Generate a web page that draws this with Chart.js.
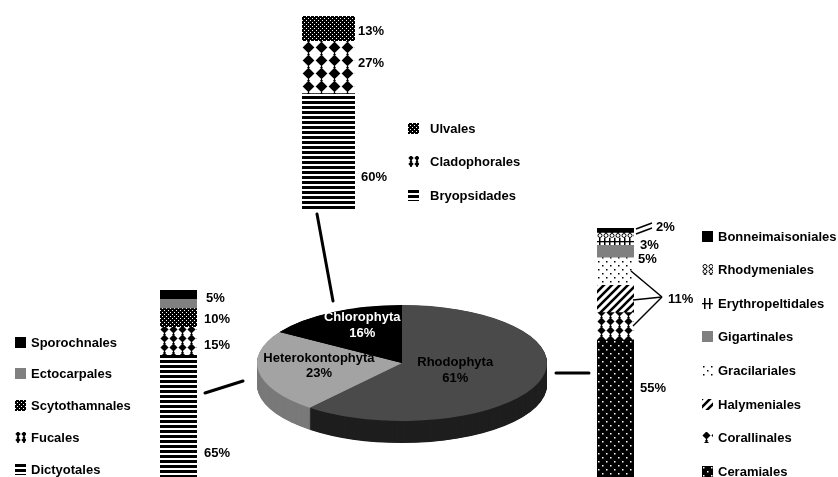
<!DOCTYPE html>
<html>
<head>
<meta charset="utf-8">
<script src="https://cdn.jsdelivr.net/npm/chart.js@4/dist/chart.umd.min.js"></script>
<style>
  html, body { margin: 0; padding: 0; background: #fff; }
  #page { position: relative; width: 838px; height: 477px; overflow: hidden; font: bold 13px "Liberation Sans", Arial, sans-serif; color: #000; }
  canvas { position: absolute; }
  .t { position: absolute; line-height: 15px; white-space: nowrap; }
  .leg { position: absolute; display: flex; align-items: center; white-space: nowrap; line-height: 15px; }
  .leg canvas { position: static; }
  svg { position: absolute; left: 0; top: 0; }
</style>
</head>
<body>
<div id="page">
  <canvas id="pie" width="306" height="306" style="left:249px;top:210px"></canvas>
  <canvas id="chloro" width="53" height="194" style="left:302px;top:16px"></canvas>
  <canvas id="hetero" width="37" height="187" style="left:160px;top:290px"></canvas>
  <canvas id="rhodo" width="37" height="249" style="left:597px;top:228px"></canvas>
  <svg width="838" height="477">
    <g stroke="#000" stroke-width="3" stroke-linecap="round">
      <line x1="317" y1="214" x2="333" y2="301"/>
      <line x1="205" y1="393" x2="243" y2="381"/>
      <line x1="556" y1="373" x2="589" y2="373"/>
    </g>
    <g stroke="#000" stroke-width="1.5">
      <line x1="636" y1="229" x2="652" y2="223"/>
      <line x1="636" y1="234" x2="652" y2="228"/>
      <line x1="662" y1="297" x2="631" y2="271"/>
      <line x1="662" y1="297" x2="633" y2="300"/>
      <line x1="662" y1="297" x2="633" y2="326"/>
    </g>
  </svg>
</div>
<script>
// main divisions
var groups = ['Rhodophyta', 'Heterokontophyta', 'Chlorophyta'];
var groupShares = [61, 23, 16];

// orders in each division, top of the bar first
var chloroOrders = ['Ulvales', 'Cladophorales', 'Bryopsidades'];
var chloroShares = [13, 27, 60];

var heteroOrders = ['Sporochnales', 'Ectocarpales', 'Scytothamnales', 'Fucales', 'Dictyotales'];
var heteroShares = [5, 5, 10, 15, 65];

var rhodoOrders = ['Bonneimaisoniales', 'Rhodymeniales', 'Erythropeltidales', 'Gigartinales',
                   'Gracilariales', 'Halymeniales', 'Corallinales', 'Ceramiales'];
var rhodoShares = [2, 2, 3, 5, 11, 11, 11, 55];

// percent labels shown beside the bars
var chloroLabels = ['13%', '27%', '60%'];
var heteroLabels = ['5%', '10%', '15%', '65%'];
var rhodoLabels = ['2%', '3%', '5%', '11%', '55%'];

// ---- patterns ----
function tile(w, h, draw) {
  var c = document.createElement('canvas');
  c.width = w; c.height = h;
  draw(c.getContext('2d'), w, h);
  return c;
}
var patCtx = document.createElement('canvas').getContext('2d');
function pat(c) { return patCtx.createPattern(c, 'repeat'); }

function hlines() {
  return tile(5, 5, function (g) { g.fillStyle = '#fff'; g.fillRect(0, 0, 5, 5); g.fillStyle = '#000'; g.fillRect(0, 0, 5, 3); });
}
function fineDots() {
  return tile(4, 4, function (g) { g.fillStyle = '#000'; g.fillRect(0, 0, 4, 4); g.fillStyle = '#fff'; g.fillRect(0, 0, 1, 1); g.fillRect(2, 2, 1, 1); });
}
function diamonds(s) {
  return tile(s, s, function (g) {
    g.fillStyle = '#fff'; g.fillRect(0, 0, s, s);
    g.fillStyle = '#000';
    var cx = s / 2, cy = s / 2 - 1, r = s * 0.45;
    g.beginPath(); g.moveTo(cx, cy - r); g.lineTo(cx + r, cy); g.lineTo(cx, cy + r); g.lineTo(cx - r, cy); g.closePath(); g.fill();
    g.fillRect(cx - 0.5, cy + r - 1, 1, s - (cy + r) + 1);
    g.beginPath(); g.moveTo(cx - 1.5, s); g.lineTo(cx + 1.5, s); g.lineTo(cx, s - 2.5); g.closePath(); g.fill();
  });
}
function sparseDots(bg, fg) {
  return tile(8, 8, function (g) { g.fillStyle = bg; g.fillRect(0, 0, 8, 8); g.fillStyle = fg; g.fillRect(1, 1, 1.5, 1.5); g.fillRect(5, 5, 1.5, 1.5); });
}
function diagonals() {
  return tile(8, 8, function (g) {
    g.fillStyle = '#fff'; g.fillRect(0, 0, 8, 8);
    g.strokeStyle = '#000'; g.lineWidth = 2.6;
    g.beginPath(); g.moveTo(-2, 2); g.lineTo(2, -2); g.moveTo(0, 8); g.lineTo(8, 0); g.moveTo(6, 10); g.lineTo(10, 6); g.stroke();
  });
}
function crossBars() {
  return tile(5, 8, function (g) { g.fillStyle = '#fff'; g.fillRect(0, 0, 5, 8); g.fillStyle = '#000'; g.fillRect(2, 0, 1.5, 8); g.fillRect(0, 5, 5, 1.3); });
}
function rings() {
  return tile(6, 5, function (g) {
    g.fillStyle = '#fff'; g.fillRect(0, 0, 6, 5);
    g.strokeStyle = '#000'; g.lineWidth = 1;
    g.beginPath(); g.arc(3, 2.5, 2, 0, Math.PI * 2); g.stroke();
  });
}

var chloroTiles = [fineDots(), diamonds(13), hlines()];
var heteroTiles = [null, null, fineDots(), diamonds(9), hlines()];
var heteroSolid = ['#000', '#808080'];
var rhodoTiles = [null, rings(), crossBars(), null, sparseDots('#fff', '#000'), diagonals(), diamonds(9), sparseDots('#000', '#fff')];
var rhodoSolid = ['#000', null, null, '#808080'];

function fills(tiles, solids) {
  return tiles.map(function (t, i) { return t ? pat(t) : solids[i]; });
}

// ---- stacked bars ----
function barChart(id, orders, shares, bg) {
  var ds = orders.map(function (o, i) {
    return { label: o, data: [shares[i]], backgroundColor: bg[i], borderWidth: 0 };
  }).reverse();
  new Chart(document.getElementById(id), {
    type: 'bar',
    data: { labels: [''], datasets: ds },
    options: {
      responsive: false, animation: false,
      layout: { padding: 0 },
      datasets: { bar: { barPercentage: 1, categoryPercentage: 1 } },
      plugins: { legend: { display: false }, tooltip: { enabled: false } },
      scales: {
        x: { display: false, stacked: true },
        y: { display: false, stacked: true, min: 0, max: 100 }
      }
    }
  });
}
barChart('chloro', chloroOrders, chloroShares, fills(chloroTiles, []));
barChart('hetero', heteroOrders, heteroShares, fills(heteroTiles, heteroSolid));
barChart('rhodo', rhodoOrders, rhodoShares, fills(rhodoTiles, rhodoSolid));

// ---- 3d pie ----
var pieTop = ['#4a4a4a', '#a3a3a3', '#000000'];
var pieSide = ['#1f1f1f', '#7a7a7a', '#000000'];
var pieText = ['#000', '#000', '#fff'];

var pie3d = {
  id: 'pie3d',
  beforeDatasetsDraw: function (chart, args, o) {
    var ctx = chart.ctx, arcs = chart.getDatasetMeta(0).data;
    var cx = arcs[0].x, cy = arcs[0].y;
    ctx.save();
    ctx.translate(cx, cy); ctx.scale(1, o.squash); ctx.translate(-cx, -cy);
    var steps = Math.round(o.depth / o.squash);
    for (var d = steps; d > 0; d--) {
      arcs.forEach(function (a, i) {
        ctx.fillStyle = pieSide[i];
        ctx.beginPath();
        ctx.moveTo(a.x, a.y + d);
        ctx.arc(a.x, a.y + d, a.outerRadius, a.startAngle, a.endAngle);
        ctx.closePath();
        ctx.fill();
      });
    }
  },
  afterDatasetsDraw: function (chart, args, o) {
    var ctx = chart.ctx, arcs = chart.getDatasetMeta(0).data;
    ctx.restore();
    ctx.save();
    ctx.font = 'bold 13px "Liberation Sans", Arial, sans-serif';
    ctx.textAlign = 'center'; ctx.textBaseline = 'middle';
    arcs.forEach(function (a, i) {
      var mid = (a.startAngle + a.endAngle) / 2, f = o.labelAt[i];
      var x = a.x + Math.cos(mid) * a.outerRadius * f[0];
      var y = a.y + Math.sin(mid) * a.outerRadius * o.squash * f[1];
      ctx.fillStyle = pieText[i];
      ctx.fillText(groups[i], x, y - 7.5);
      ctx.fillText(groupShares[i] + '%', x, y + 8);
    });
    ctx.restore();
  }
};

new Chart(document.getElementById('pie'), {
  type: 'pie',
  data: { labels: groups, datasets: [{ data: groupShares, backgroundColor: pieTop, borderWidth: 0 }] },
  options: {
    responsive: false, animation: false,
    layout: { padding: 8 },
    plugins: {
      legend: { display: false }, tooltip: { enabled: false },
      pie3d: { squash: 0.4, depth: 22, labelAt: [[0.39, 0.36], [0.58, 0.27], [0.57, 0.74]] }
    }
  },
  plugins: [pie3d]
});

// ---- text: percent labels and legends ----
var page = document.getElementById('page');
function label(txt, x, cy) {
  var d = document.createElement('div');
  d.className = 't'; d.textContent = txt;
  d.style.left = x + 'px'; d.style.top = (cy - 7.5) + 'px';
  page.appendChild(d);
}
var chloroLabelPos = [[358, 30], [358, 62], [361, 176]];
var heteroLabelPos = [[206, 297], [204, 318], [204, 344], [204, 452]];
var rhodoLabelPos = [[656, 226], [640, 244], [638, 258], [668, 298], [640, 387]];
chloroLabels.forEach(function (t, i) { label(t, chloroLabelPos[i][0], chloroLabelPos[i][1]); });
heteroLabels.forEach(function (t, i) { label(t, heteroLabelPos[i][0], heteroLabelPos[i][1]); });
rhodoLabels.forEach(function (t, i) { label(t, rhodoLabelPos[i][0], rhodoLabelPos[i][1]); });

function legend(orders, bg, x, y0, step, gap) {
  orders.forEach(function (o, i) {
    var row = document.createElement('div');
    row.className = 'leg';
    row.style.left = x + 'px'; row.style.top = (y0 + i * step - 7.5) + 'px';
    var ic = document.createElement('canvas');
    ic.width = 11; ic.height = 11;
    ic.style.marginRight = gap + 'px';
    var g = ic.getContext('2d');
    g.fillStyle = bg[i]; g.fillRect(0, 0, 11, 11);
    row.appendChild(ic);
    var s = document.createElement('span'); s.textContent = o;
    row.appendChild(s);
    page.appendChild(row);
  });
}
legend(chloroOrders, fills([fineDots(), diamonds(6), hlines()], []), 408, 128, 33.5, 11);
legend(heteroOrders, fills([null, null, fineDots(), diamonds(6), hlines()], heteroSolid), 15, 342, 31.8, 5);
legend(rhodoOrders, fills(rhodoTiles, rhodoSolid), 702, 236, 33.6, 5);
</script>
</body>
</html>
